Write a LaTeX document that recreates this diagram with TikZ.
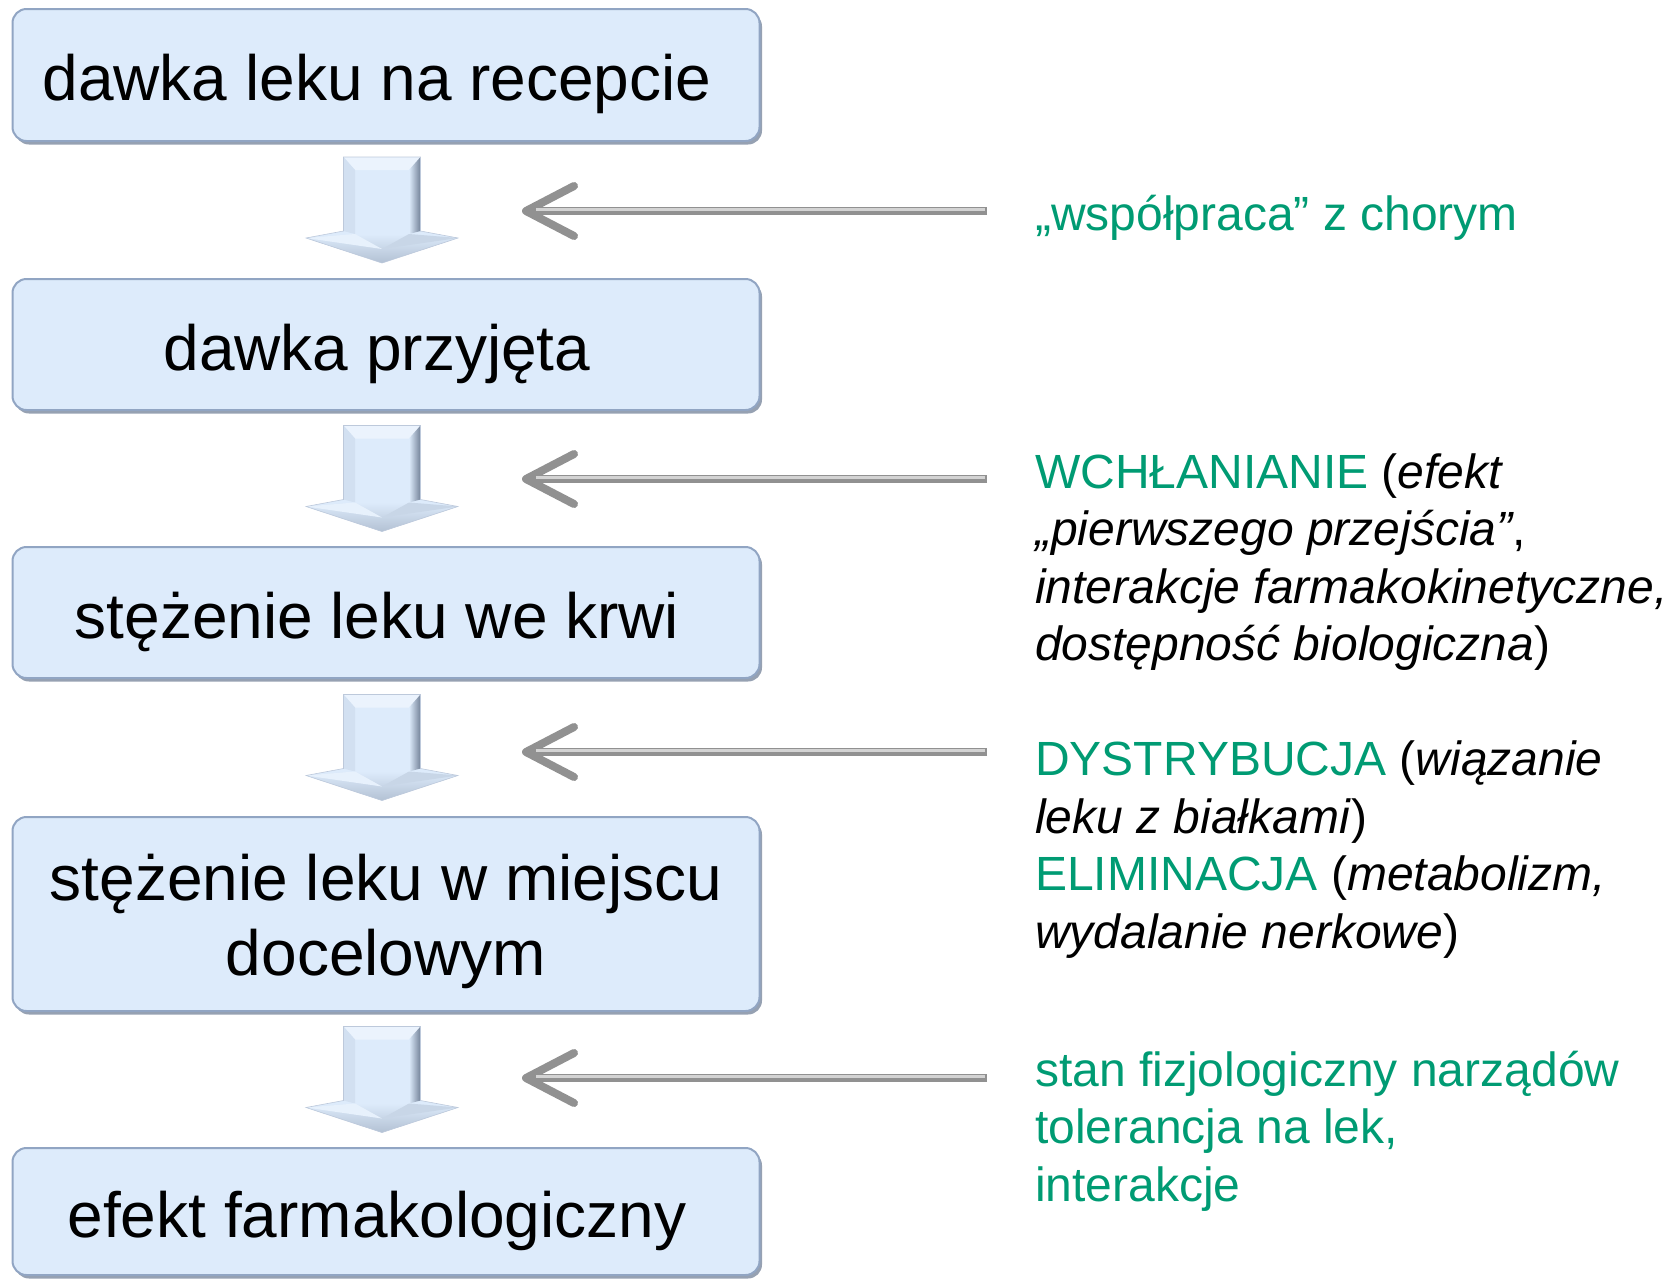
\documentclass[tikz,border=0pt]{standalone}
\usepackage{fontspec}
\setmainfont{Liberation Sans}
\usetikzlibrary{arrows.meta,shadows,calc}
\definecolor{boxfill}{RGB}{221,235,251}
\definecolor{boxedge}{RGB}{145,165,195}
\definecolor{bevdark}{RGB}{115,130,152}
\definecolor{grn}{RGB}{0,155,115}
\definecolor{arrgray}{RGB}{145,145,145}
\tikzset{
  box/.style={rounded corners=14pt, fill=boxfill, draw=boxedge, line width=2pt,
    minimum width=747pt, inner sep=0pt, font=\fontsize{64}{75}\selectfont, align=center,
    drop shadow={shadow xshift=2.5pt, shadow yshift=-3.5pt, fill=bevdark, opacity=0.75}},
  oneline/.style={text height=60pt, text depth=9pt},
  side/.style={anchor=north west, inner sep=0pt, align=left, font=\fontsize{48}{57.5}\selectfont},
  feed/.style={draw=arrgray, line width=8pt, -{Straight Barb[length=48pt,width=50pt,round]}},
  blockarr/.pic={
    \fill[boxfill] (-38.5,0) -- (38.5,0) -- (38.5,74) -- (76,81) -- (0,106) -- (-76,81) -- (-38.5,74) -- cycle;
    \fill[boxfill!60!white] (-38.5,0) -- (38.5,0) -- (27,13) -- (-27,13) -- cycle;
    \fill[boxfill!90!bevdark] (-38.5,0) -- (-27,13) -- (-27,77) -- (-38.5,74) -- cycle;
    \shade[left color=boxfill, right color=bevdark] (27,13) -- (38.5,0) -- (38.5,74) -- (27,77) -- cycle;
    \shade[top color=boxfill, bottom color=boxfill!60!bevdark] (-76,81) -- (-27,77) -- (27,77) -- (76,81) -- (0,106) -- cycle;
    \fill[boxfill!70!white] (-76,81) -- (-27,77) -- (0,92) -- cycle;
    \fill[boxfill!80!bevdark] (76,81) -- (27,77) -- (0,92) -- cycle;
    \draw[boxedge!60, line width=0.6pt] (-38.5,0) -- (38.5,0) -- (38.5,74) -- (76,81) -- (0,106) -- (-76,81) -- (-38.5,74) -- cycle;
  }
}
\begin{document}
\begin{tikzpicture}[x=1pt,y=-1pt]
\useasboundingbox (0,0) rectangle (1668,1278);

% boxes
\node[box, oneline, minimum height=132pt] (b1) at (386,75) {dawka leku na recepcie\hspace*{18pt}};
\node[box, oneline, minimum height=131pt] (b2) at (386,344.5) {dawka przyjęta\hspace*{18pt}};
\node[box, oneline, minimum height=131pt] (b3) at (386,612.5) {stężenie leku we krwi\hspace*{18pt}};
\node[box, minimum height=194pt] (b4) at (386,914) {\rule{0pt}{62pt}stężenie leku w miejscu\\docelowym};
\node[box, oneline, minimum height=127pt] (b5) at (386,1211.5) {efekt farmakologiczny\hspace*{18pt}};

% block arrows between boxes
\pic at ($(b1.south)!0.5!(b2.north)+(-4,-53)$) {blockarr};
\pic at ($(b2.south)!0.5!(b3.north)+(-4,-53)$) {blockarr};
\pic at ($(b3.south)!0.5!(b4.north)+(-4,-53)$) {blockarr};
\pic at ($(b4.south)!0.5!(b5.north)+(-4,-53)$) {blockarr};

% side texts
\node[side, text=grn] (t1) at (1035,192) {\rule{0pt}{38pt}„współpraca” z chorym};
\node[side] (t2) at (1035,450) {\rule{0pt}{38pt}{\color{grn}WCHŁANIANIE} (\textit{efekt}\\
  \textit{„pierwszego przejścia”},\\
  \textit{interakcje farmakokinetyczne,}\\
  \textit{dostępność biologiczna})};
\node[side] (t3) at (1035,737.5) {\rule{0pt}{38pt}{\color{grn}DYSTRYBUCJA} (\textit{wiązanie}\\
  \textit{leku z białkami})\\
  {\color{grn}ELIMINACJA} (\textit{metabolizm,}\\
  \textit{wydalanie nerkowe})};
\node[side, text=grn] (t4) at (1035,1048) {\rule{0pt}{38pt}stan fizjologiczny narządów\\
  tolerancja na lek,\\
  interakcje};

% grey feed arrows
\coordinate (s1) at (987,211);  \coordinate (e1) at (522,211);
\coordinate (s2) at (987,479);  \coordinate (e2) at (522,479);
\coordinate (s3) at (987,752);  \coordinate (e3) at (522,752);
\coordinate (s4) at (987,1078); \coordinate (e4) at (522,1078);
\foreach \i in {1,2,3,4}{
  \draw[feed] (s\i) -- (e\i);
  \draw[line width=2.5pt, arrgray!40!white] ($(s\i)+(-2,-1.5)$) -- ($(e\i)+(14,-1.5)$);
}
\end{tikzpicture}
\end{document}
